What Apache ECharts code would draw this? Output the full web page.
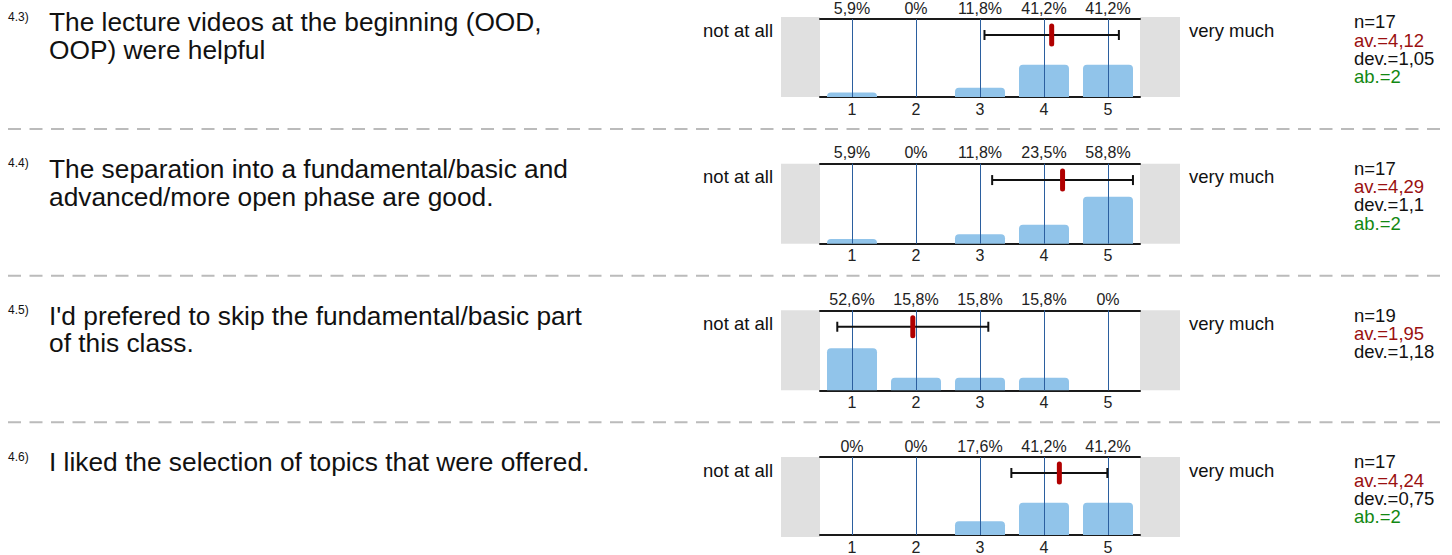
<!DOCTYPE html>
<html>
<head>
<meta charset="utf-8">
<script src="https://cdn.jsdelivr.net/npm/echarts@6/dist/echarts.min.js"></script>
<style>
html,body{margin:0;padding:0;background:#fff;}
#chart{width:1452px;height:555px;}
</style>
</head>
<body>
<div id="chart"></div>
<script>
// ---- data ----
const cats = ['1', '2', '3', '4', '5'];
const qNums = ['4.3)', '4.4)', '4.5)', '4.6)'];
const questionLines = [
  ['The lecture videos at the beginning (OOD,', 'OOP) were helpful'],
  ['The separation into a fundamental/basic and', 'advanced/more open phase are good.'],
  ["I'd prefered to skip the fundamental/basic part", 'of this class.'],
  ['I liked the selection of topics that were offered.']
];
const pctQ43 = [5.9, 0, 11.8, 41.2, 41.2];
const pctQ44 = [5.9, 0, 11.8, 23.5, 58.8];
const pctQ45 = [52.6, 15.8, 15.8, 15.8, 0];
const pctQ46 = [0, 0, 17.6, 41.2, 41.2];
const nVals = [17, 17, 19, 17];
const avVals = [4.12, 4.29, 1.95, 4.24];
const devVals = [1.05, 1.1, 1.18, 0.75];
const abVals = [2, 2, null, 2];
const leftLabel = 'not at all';
const rightLabel = 'very much';

const pcts = [pctQ43, pctQ44, pctQ45, pctQ46];

// ---- layout / style ----
const FONT = '"Liberation Sans", Arial, sans-serif';
const GRID_LEFT = 820, GRID_W = 320, GRID_H = 80;
const tops = [0, 1, 2, 3].map(k => 17 + k * 146.67);
const ERR_Y = 79.5; // y level (in % units) of the error bar
const fmtNum = v => String(v).replace('.', ',');

const grids = [], xAxes = [], yAxes = [], series = [], graphics = [];

pcts.forEach((pct, k) => {
  const T = tops[k];
  grids.push({ left: GRID_LEFT, top: T, width: GRID_W, height: GRID_H, containLabel: false });
  // bottom category axis
  xAxes.push({
    type: 'category', gridIndex: k, data: cats, position: 'bottom', boundaryGap: true,
    axisLine: { show: true, lineStyle: { color: '#1a1a1a', width: 2 } },
    axisTick: { show: false }, splitLine: { show: false },
    axisLabel: { fontSize: 16, color: '#222', margin: 4, fontFamily: FONT }
  });
  // top category axis with percent labels
  xAxes.push({
    type: 'category', gridIndex: k, data: cats, position: 'top', boundaryGap: true,
    axisLine: { show: true, onZero: false, lineStyle: { color: '#1a1a1a', width: 2 } },
    axisTick: { show: false }, splitLine: { show: false },
    axisLabel: { fontSize: 16, color: '#222', margin: 3, fontFamily: FONT,
      formatter: (v, i) => fmtNum(pct[i]) + '%' }
  });
  // hidden value axis for error bar
  xAxes.push({ type: 'value', gridIndex: k, min: 0.5, max: 5.5, show: false });
  yAxes.push({ type: 'value', gridIndex: k, min: 0, max: 100, show: false });

  series.push({
    type: 'bar', xAxisIndex: 3 * k, yAxisIndex: k, data: pct, barWidth: 50,
    itemStyle: { color: '#91c4ea', borderRadius: [4, 4, 0, 0] },
    silent: true,
    markLine: {
      silent: true, symbol: 'none', label: { show: false },
      lineStyle: { color: '#2b5f9f', width: 1, type: 'solid' },
      data: cats.map(c => ({ xAxis: c }))
    }
  });
  series.push({
    type: 'custom', xAxisIndex: 3 * k + 2, yAxisIndex: k, silent: true, z: 5,
    data: [[avVals[k], devVals[k]]],
    renderItem: (params, api) => {
      const av = api.value(0), dev = api.value(1);
      const pL = api.coord([av - dev, ERR_Y]);
      const pR = api.coord([av + dev, ERR_Y]);
      const pM = api.coord([av, ERR_Y]);
      const ls = { stroke: '#111', lineWidth: 2 };
      return {
        type: 'group',
        children: [
          { type: 'line', shape: { x1: pL[0], y1: pL[1], x2: pR[0], y2: pR[1] }, style: ls },
          { type: 'line', shape: { x1: pL[0], y1: pL[1] - 5, x2: pL[0], y2: pL[1] + 5 }, style: ls },
          { type: 'line', shape: { x1: pR[0], y1: pR[1] - 5, x2: pR[0], y2: pR[1] + 5 }, style: ls },
          { type: 'line', shape: { x1: pM[0], y1: pM[1] - 9, x2: pM[0], y2: pM[1] + 9 },
            style: { stroke: '#b00000', lineWidth: 5, lineCap: 'round' } }
        ]
      };
    }
  });

  // gray side boxes
  graphics.push({ type: 'rect', shape: { x: 781, y: T, width: 39, height: GRID_H }, style: { fill: '#e0e0e0' }, z: -1, silent: true });
  graphics.push({ type: 'rect', shape: { x: 1140, y: T, width: 40, height: GRID_H }, style: { fill: '#e0e0e0' }, z: -1, silent: true });

  // question number
  graphics.push({ type: 'text', silent: true, style: {
    text: qNums[k], x: 8, y: T - 0.5, font: '12px ' + FONT, fill: '#111',
    textAlign: 'left', textVerticalAlign: 'middle', align: 'left', verticalAlign: 'middle' } });
  // question text, one element per line
  questionLines[k].forEach((line, j) => {
    graphics.push({ type: 'text', silent: true, style: {
      text: line, x: 49, y: T + 5.4 + j * 27.6, font: '26.3px ' + FONT, fill: '#111',
      textAlign: 'left', textVerticalAlign: 'middle', align: 'left', verticalAlign: 'middle' } });
  });
  // scale end labels
  graphics.push({ type: 'text', silent: true, style: {
    text: leftLabel, x: 773, y: T + 13.2, font: '18.5px ' + FONT, fill: '#111',
    textAlign: 'right', textVerticalAlign: 'middle', align: 'right', verticalAlign: 'middle' } });
  graphics.push({ type: 'text', silent: true, style: {
    text: rightLabel, x: 1189, y: T + 13.2, font: '18.5px ' + FONT, fill: '#111',
    textAlign: 'left', textVerticalAlign: 'middle', align: 'left', verticalAlign: 'middle' } });
  // stats
  const stats = [
    { t: 'n=' + nVals[k], c: '#111' },
    { t: 'av.=' + fmtNum(avVals[k]), c: '#9a1010' },
    { t: 'dev.=' + fmtNum(devVals[k]), c: '#111' }
  ];
  if (abVals[k] !== null) stats.push({ t: 'ab.=' + abVals[k], c: '#128812' });
  stats.forEach((s, i) => {
    graphics.push({ type: 'text', silent: true, style: {
      text: s.t, x: 1354, y: T + 4.8 + i * 18.2, font: '18.5px ' + FONT, fill: s.c,
      textAlign: 'left', textVerticalAlign: 'middle', align: 'left', verticalAlign: 'middle' } });
  });
  // dashed separator
  if (k < 3) {
    graphics.push({ type: 'line', silent: true,
      shape: { x1: 8, y1: T + 112, x2: 1445, y2: T + 112 },
      style: { stroke: '#bbbbbb', lineWidth: 2, lineDash: [13, 8.5] } });
  }
});

const chart = echarts.init(document.getElementById('chart'), null, { renderer: 'svg' });
chart.setOption({
  animation: false,
  backgroundColor: '#fff',
  textStyle: { fontFamily: FONT },
  grid: grids,
  xAxis: xAxes,
  yAxis: yAxes,
  series: series,
  graphic: graphics
});
</script>
</body>
</html>
